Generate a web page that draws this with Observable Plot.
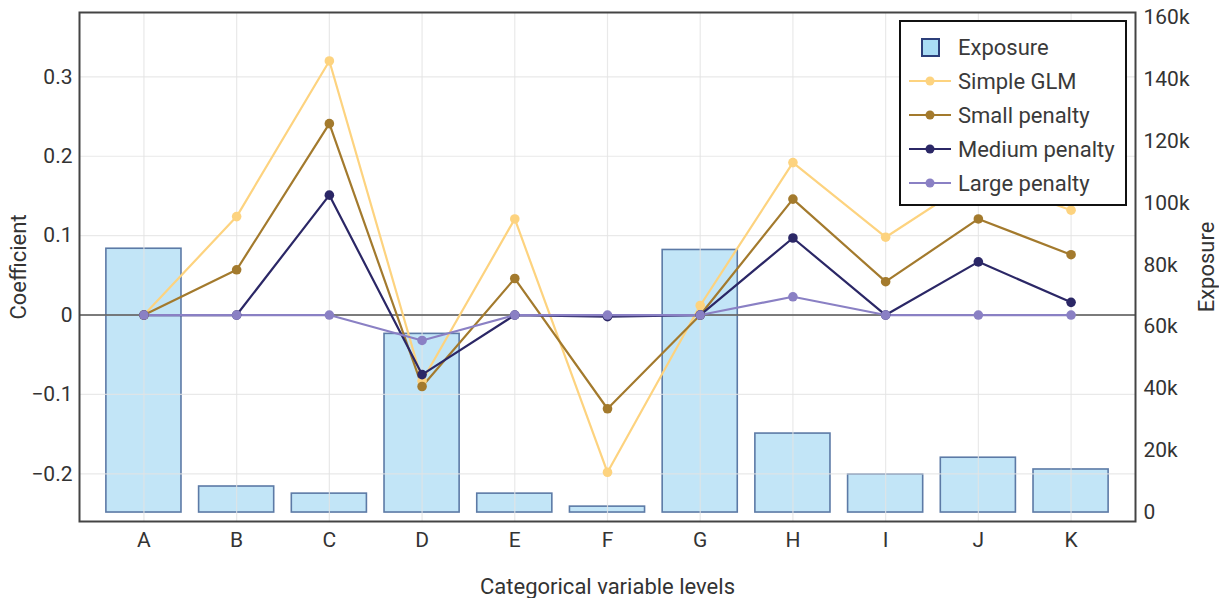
<!DOCTYPE html>
<html>
<head>
<meta charset="utf-8">
<script src="https://cdn.jsdelivr.net/npm/d3@7"></script>
<script src="https://cdn.jsdelivr.net/npm/@observablehq/plot@0.6"></script>
<style>
  html, body { margin: 0; padding: 0; background: #fff; }
  #wrap { position: relative; width: 1219px; height: 598px; font-family: Roboto, sans-serif; }
  #legend { position: absolute; left: 899px; top: 20px; width: 228px; height: 186px; border: 2px solid #111; background: #fff; box-sizing: border-box; }
  .item { position: absolute; left: 0; height: 30px; display: flex; align-items: center; font-size: 22px; color: #3a3a3a; }
  .item svg { width: 56px; height: 30px; margin-right: 1px; }
</style>
</head>
<body>
<div id="wrap"><div id="chart"></div><div id="legend"></div></div>
<script>
const categories = ["A", "B", "C", "D", "E", "F", "G", "H", "I", "J", "K"];
const exposure = [85200, 8400, 6100, 57700, 6100, 1900, 84800, 25500, 12300, 17700, 13900];
const simpleGLM = [0, 0.124, 0.320, -0.083, 0.121, -0.198, 0.012, 0.192, 0.098, 0.174, 0.132];
const smallPenalty = [0, 0.057, 0.241, -0.090, 0.046, -0.118, 0, 0.146, 0.042, 0.121, 0.076];
const mediumPenalty = [0, 0, 0.151, -0.075, 0, -0.002, 0, 0.097, 0, 0.067, 0.016];
const largePenalty = [0, 0, 0, -0.032, 0, 0, 0, 0.023, 0, 0, 0];
const seriesNames = ["Simple GLM", "Small penalty", "Medium penalty", "Large penalty"];
const seriesColors = ["#fdd37f", "#a37a2d", "#2b2766", "#8a80c4"];
const coefTicks = [-0.2, -0.1, 0, 0.1, 0.2, 0.3];
const exposureTicks = [0, 20000, 40000, 60000, 80000, 100000, 120000, 140000, 160000];

const coefDomain = [-0.26, 0.381];
const exposureDomain = [-2900, 161500];
const toCoef = d3.scaleLinear().domain(exposureDomain).range(coefDomain);

const seriesValues = [simpleGLM, smallPenalty, mediumPenalty, largePenalty];
const lineData = seriesNames.flatMap((name, s) =>
  categories.map((c, i) => ({series: name, cat: c, value: seriesValues[s][i]})));
const barData = categories.map((c, i) => ({cat: c, exposure: exposure[i]}));

const fmtExp = d => { const e = Math.round(toCoef.invert(d) / 1000) * 1000; return e === 0 ? "0" : (e / 1000) + "k"; };
const fmtCoef = d => d === 0 ? "0" : d3.format(".1f")(d).replace("-", "\u2212");

const chart = Plot.plot({
  width: 1219,
  height: 598,
  marginTop: 12,
  marginBottom: 77,
  marginLeft: 79,
  marginRight: 84,
  style: {fontFamily: "Roboto, sans-serif", fontSize: "21px", color: "#333", background: "#fff"},
  x: {type: "band", domain: categories, paddingInner: 0.19, paddingOuter: 0.29, round: false},
  y: {domain: coefDomain},
  marks: [
    Plot.barY(barData, {x: "cat", y1: () => toCoef(0), y2: d => toCoef(d.exposure), fill: "#c2e5f7", stroke: "#5c7aa6", strokeWidth: 1.6}),
    Plot.gridY(coefTicks, {stroke: "#e4e4e4", strokeOpacity: 0.8, strokeWidth: 1.2}),
    Plot.gridX(categories, {stroke: "#e4e4e4", strokeOpacity: 0.8, strokeWidth: 1.2}),
    Plot.ruleY([0], {stroke: "#555", strokeWidth: 1.6}),
    Plot.line(lineData, {x: "cat", y: "value", z: "series", stroke: "series", strokeWidth: 2.2}),
    Plot.dot(lineData, {x: "cat", y: "value", fill: "series", r: 4.8}),
    Plot.axisX({tickSize: 0, tickPadding: 11, fontSize: 21, label: null}),
    Plot.axisX({tickSize: 0, ticks: [], label: "Categorical variable levels", labelAnchor: "center", labelOffset: 72, labelArrow: "none", fontSize: 22}),
    Plot.axisY(coefTicks, {anchor: "left", tickSize: 0, tickPadding: 7, fontSize: 21, tickFormat: fmtCoef, label: null}),
    Plot.axisY({anchor: "left", ticks: [], label: "Coefficient", labelAnchor: "center", labelOffset: 69, labelArrow: "none", fontSize: 22}),
    Plot.axisY(exposureTicks.map(e => toCoef(e)), {anchor: "right", tickSize: 0, tickPadding: 8, fontSize: 21, tickFormat: fmtExp, label: null}),
    Plot.axisY({anchor: "right", ticks: [], label: "Exposure", labelAnchor: "center", labelOffset: 78, labelArrow: "none", fontSize: 22}),
    Plot.frame({stroke: "#444", strokeWidth: 2})
  ],
  color: {domain: seriesNames, range: seriesColors}
});
document.getElementById("chart").appendChild(chart);

// legend
const legend = document.getElementById("legend");
const items = [{name: "Exposure", type: "bar"}].concat(seriesNames.map((n, i) => ({name: n, type: "line", color: seriesColors[i]})));
const tops = [10, 44, 78, 112, 146];
items.forEach((it, i) => {
  const div = document.createElement("div");
  div.className = "item";
  div.style.top = tops[i] + "px";
  let sw;
  if (it.type === "bar") {
    sw = `<svg viewBox="0 0 56 30"><rect x="21" y="7" width="17" height="17" fill="#a9dcf5" stroke="#2c3f7a" stroke-width="2"/></svg>`;
  } else {
    sw = `<svg viewBox="0 0 56 30"><line x1="8" x2="50" y1="15" y2="15" stroke="${it.color}" stroke-width="2.2"/><circle cx="29" cy="15" r="4.5" fill="${it.color}"/></svg>`;
  }
  div.innerHTML = sw + `<span>${it.name}</span>`;
  legend.appendChild(div);
});
</script>
</body>
</html>
